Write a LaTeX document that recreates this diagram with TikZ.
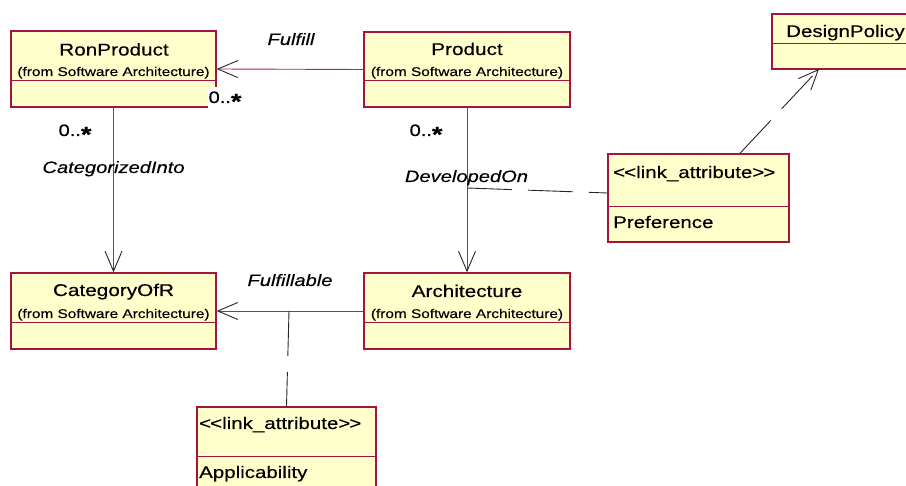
\documentclass[tikz,border=0pt]{standalone}
\usepackage{fontspec}
\setmainfont{Liberation Sans}[FakeStretch=1.22, FakeBold=0.3]
\usetikzlibrary{arrows.meta}
\definecolor{umlfill}{RGB}{255,255,204}
\definecolor{umlborder}{RGB}{165,20,60}
\definecolor{umlline}{RGB}{175,40,80}
\newcommand{\multstar}{\raisebox{-6pt}{\fontsize{22}{22}\selectfont\bfseries *}}
\tikzset{
  cls/.style={draw=umlborder, fill=umlfill, line width=1.4pt, rectangle, inner sep=0pt},
  divider/.style={draw=umlborder, line width=1pt},
  ttl/.style={inner sep=0pt, anchor=base, font=\fontsize{17}{20}\selectfont},
  frm/.style={inner sep=0pt, anchor=base, font=\fontsize{12.6}{14}\selectfont},
  attr/.style={inner sep=0pt, anchor=base west, font=\fontsize{16.8}{20}\selectfont},
  lbl/.style={inner sep=0pt, anchor=base, font=\itshape\fontsize{16.5}{20}\selectfont},
  mult/.style={inner sep=0pt, anchor=base, font=\fontsize{16.5}{20}\selectfont},
  openhead/.style={-{Straight Barb[length=20pt, width=17pt, line width=0.9pt, color=black!85]}},
  assoc/.style={draw=umlline, line width=0.9pt, openhead},
  dashlink/.style={draw=black!85, line width=0.9pt, dash pattern=on 45pt off 16pt},
}
\begin{document}
\begin{tikzpicture}[x=1pt, y=-1pt]
\useasboundingbox (0,0) rectangle (906,486);
\clip (0,0) rectangle (906,486);
% class boxes
\node[cls, minimum width=205pt, minimum height=76pt] (ron) at (113.5,69) {};
\node[cls, minimum width=206pt, minimum height=75pt] (prod) at (467,69.5) {};
\node[cls, minimum width=205pt, minimum height=76pt] (cat) at (113.5,311) {};
\node[cls, minimum width=206pt, minimum height=76pt] (arch) at (467,311) {};
\node[cls, minimum width=150pt, minimum height=55pt] (dp) at (847,41.5) {};
\node[cls, minimum width=181pt, minimum height=88pt] (pref) at (698.5,198) {};
\node[cls, minimum width=179pt, minimum height=110pt] (appl) at (286.5,462) {};
% dividers
\draw[divider] (ron.west |- 0,81) -- (ron.east |- 0,81);
\draw[divider] (prod.west |- 0,81) -- (prod.east |- 0,81);
\draw[divider] (cat.west |- 0,323) -- (cat.east |- 0,323);
\draw[divider] (arch.west |- 0,323) -- (arch.east |- 0,323);
\draw[divider] (dp.west |- 0,44) -- (dp.east |- 0,44);
\draw[divider] (pref.west |- 0,207) -- (pref.east |- 0,207);
\draw[divider] (appl.west |- 0,457) -- (appl.east |- 0,457);
% texts
\node[ttl] (ronT) at (114,55.5) {RonProduct};
\node[frm] (ronF) at (113.5,76) {(from Software Architecture)};
\node[ttl] (prodT) at (467,55) {Product};
\node[frm] (prodF) at (467,76) {(from Software Architecture)};
\node[ttl] (catT) at (113.5,296) {CategoryOfR};
\node[frm] (catF) at (113.5,318) {(from Software Architecture)};
\node[ttl] (archT) at (467,297) {Architecture};
\node[frm] (archF) at (467,318) {(from Software Architecture)};
\node[attr] (dpT) at (786,37) {DesignPolicy};
\node[attr] (prefS) at (613,178) {<\kern-1pt<link\_attribute>\kern-1pt>};
\node[attr] (prefA) at (613,228) {Preference};
\node[attr] (applS) at (199,429) {<\kern-1pt<link\_attribute>\kern-1pt>};
\node[attr] (applA) at (199,478) {Applicability};
% connectors
\draw[assoc] (prod.west) -- (ron.east);
\draw[assoc] (ron.south) -- (cat.north);
\draw[assoc] (prod.south) -- (arch.north);
\draw[assoc] (arch.west) -- (cat.east);
\coordinate (devmid) at (467,188);
\coordinate (fulmid) at (289,311);
\coordinate (dptip) at (819,69);
\draw[dashlink] (devmid) -- ([yshift=5pt]pref.west);
\draw[dashlink] (fulmid) -- (appl.north);
\draw[dashlink, openhead] ([xshift=41.5pt]pref.north) -- (dptip);
% labels
\node[lbl] (lFul) at (291,45) {Fulfill};
\node[lbl] (lCat) at (113.5,173) {CategorizedInto};
\node[lbl] (lDev) at (466.5,182) {DevelopedOn};
\node[lbl] (lFab) at (290,286) {Fulfillable};
\node[mult, fill=white, inner xsep=1pt, inner ysep=4pt] (m1) at (225,103) {0..\multstar};
\node[mult] (m2) at (75,136) {0..\multstar};
\node[mult] (m3) at (426,136) {0..\multstar};
\end{tikzpicture}
\end{document}
